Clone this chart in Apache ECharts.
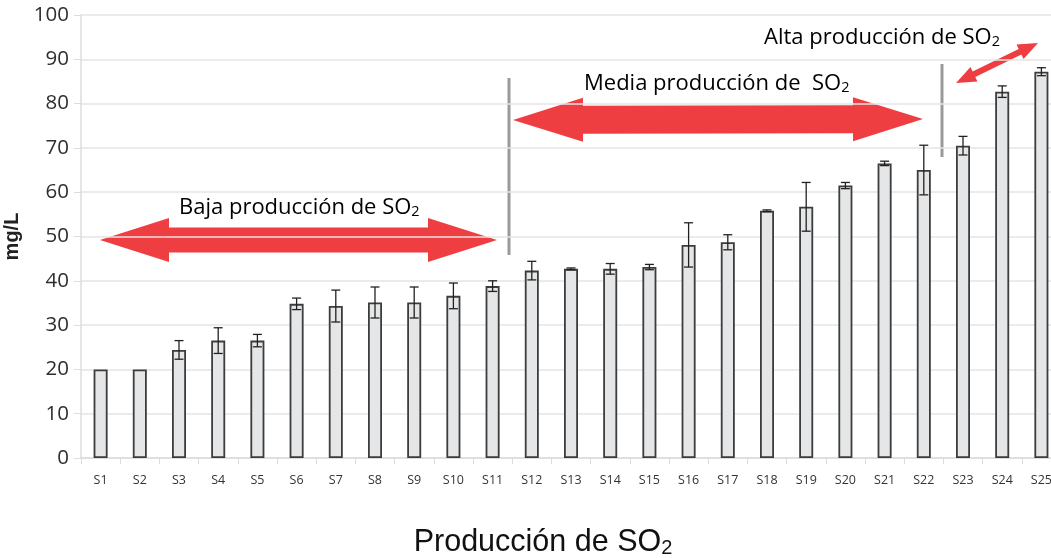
<!DOCTYPE html>
<html>
<head>
<meta charset="utf-8">
<script src="https://cdn.jsdelivr.net/npm/echarts@6/dist/echarts.min.js"></script>
<style>
html,body{margin:0;padding:0;background:#fff;}
#main{width:1051px;height:558px;}
</style>
</head>
<body>
<div id="main"></div>
<script>
'use strict'
// muestras
var categories=['S1','S2','S3','S4','S5','S6','S7','S8','S9','S10','S11','S12','S13',
	'S14','S15','S16','S17','S18','S19','S20','S21','S22','S23','S24','S25'];
// media mg/L
var means=[20,20,24.4,26.5,26.5,34.8,34.3,35.1,35.1,36.6,38.8,42.3,42.7,
	42.7,43.1,48.1,48.7,55.8,56.7,61.5,66.5,65.0,70.5,82.7,87.2];
// desviacion
var errs=[0,0,2.1,2.9,1.4,1.3,3.6,3.5,3.5,2.9,1.2,2.1,0.2,
	1.2,0.6,5.0,1.7,0.2,5.5,0.7,0.5,5.6,2.1,1.3,0.9];
var yTicks={min:0,max:100,interval:10};

window.onload=function (){
	var myChart=echarts.init(document.getElementById('main'));
	var font='Open Sans';
	var red='#ee3e42';

	var errData=[];
	for(var i=0;i<means.length;i++){
		errData.push([i,means[i]-errs[i],means[i]+errs[i]]);
	}

	// flecha de dos puntas
	function arrowPts(x1,y1,x2,y2,hl,hw,sw){
		var dx=x2-x1,dy=y2-y1,L=Math.sqrt(dx*dx+dy*dy);
		var ux=dx/L,uy=dy/L,nx=-uy,ny=ux;
		function p(t,n){return [x1+ux*t+nx*n,y1+uy*t+ny*n];}
		return [p(0,0),p(hl,hw),p(hl,sw),p(L-hl,sw),p(L-hl,hw),p(L,0),
			p(L-hl,-hw),p(L-hl,-sw),p(hl,-sw),p(hl,-hw)];
	}
	function label(x,y,txt){
		return {
			type:'text',x:x,y:y,silent:true,
			style:{
				text:'{a|'+txt+'}{s|2}',
				verticalAlign:'middle',align:'left',
				rich:{
					a:{fontFamily:font,fontSize:22,color:'#333',lineHeight:26,verticalAlign:'bottom'},
					s:{fontFamily:font,fontSize:14.5,color:'#333',lineHeight:12,verticalAlign:'bottom'}
				}
			}
		};
	}

	var option={
		backgroundColor:'#fff',
		animation:false,
		grid:{left:81,top:15,width:980,height:443,containLabel:false,outerBoundsMode:'none'},
		xAxis:{
			type:'category',
			data:categories,
			boundaryGap:true,
			axisLine:{lineStyle:{color:'#dcdcdc',width:1.5}},
			axisTick:{show:true,length:6,lineStyle:{color:'#dcdcdc'}},
			axisLabel:{fontFamily:font,fontSize:12.5,color:'#333',margin:16,interval:0},
			name:'{a|Producción de SO}{s|2}',
			nameLocation:'middle',
			nameGap:65,
			nameTextStyle:{
				padding:[0,56,0,0],
				rich:{
					a:{fontFamily:'Liberation Sans',fontSize:30.5,color:'#111',lineHeight:35,verticalAlign:'bottom'},
					s:{fontFamily:'Liberation Sans',fontSize:20,color:'#111',lineHeight:15,verticalAlign:'bottom'}
				}
			}
		},
		yAxis:{
			type:'value',
			min:yTicks.min,max:yTicks.max,interval:yTicks.interval,
			axisLine:{show:true,lineStyle:{color:'#dcdcdc',width:1.5}},
			axisTick:{show:true,length:7,lineStyle:{color:'#dcdcdc'}},
			axisLabel:{fontFamily:font,fontSize:20.5,color:'#2e2e2e',margin:12},
			splitLine:{lineStyle:{color:'#e4e4e4',width:1.5}},
			name:'mg/L',
			nameLocation:'middle',
			nameGap:44,
			nameTextStyle:{fontFamily:'Liberation Sans',fontWeight:'bold',fontSize:20,color:'#222'}
		},
		series:[
			{
				type:'bar',
				data:means,
				barWidth:14,
				itemStyle:{color:'#e5e6e7',borderColor:'#3c3c3c',borderWidth:1.8}
			},
			{
				type:'custom',
				data:errData,
				z:5,
				renderItem:function (params,api){
					var lo=api.value(1),hi=api.value(2);
					if(hi-lo<0.01)return null;
					var t=api.coord([api.value(0),hi]);
					var b=api.coord([api.value(0),lo]);
					var w=4.5;
					var st={stroke:'#222',lineWidth:1.3};
					return {type:'group',children:[
						{type:'line',shape:{x1:t[0],y1:t[1],x2:b[0],y2:b[1]},style:st},
						{type:'line',shape:{x1:t[0]-w,y1:t[1],x2:t[0]+w,y2:t[1]},style:st},
						{type:'line',shape:{x1:b[0]-w,y1:b[1],x2:b[0]+w,y2:b[1]},style:st}
					]};
				}
			}
		],
		graphic:[
			{type:'polygon',silent:true,shape:{points:arrowPts(100,240,497,240,69,22,12.5)},style:{fill:red}},
			{type:'polygon',silent:true,shape:{points:arrowPts(513,120,923,119,70,22,14)},style:{fill:red}},
			{type:'polygon',silent:true,shape:{points:arrowPts(956,83,1038,43,20,8,3)},style:{fill:red}},
			{type:'line',silent:true,shape:{x1:509,y1:78,x2:509,y2:255},style:{stroke:'#9a9a9a',lineWidth:3}},
			{type:'line',silent:true,shape:{x1:942,y1:64,x2:942,y2:157},style:{stroke:'#9a9a9a',lineWidth:3}},
			label(179,206,'Baja producción de SO'),
			label(584,82,'Media producción de  SO'),
			label(764,36,'Alta producción de SO')
		]
	};
	myChart.setOption(option);
};
</script>
</body>
</html>
